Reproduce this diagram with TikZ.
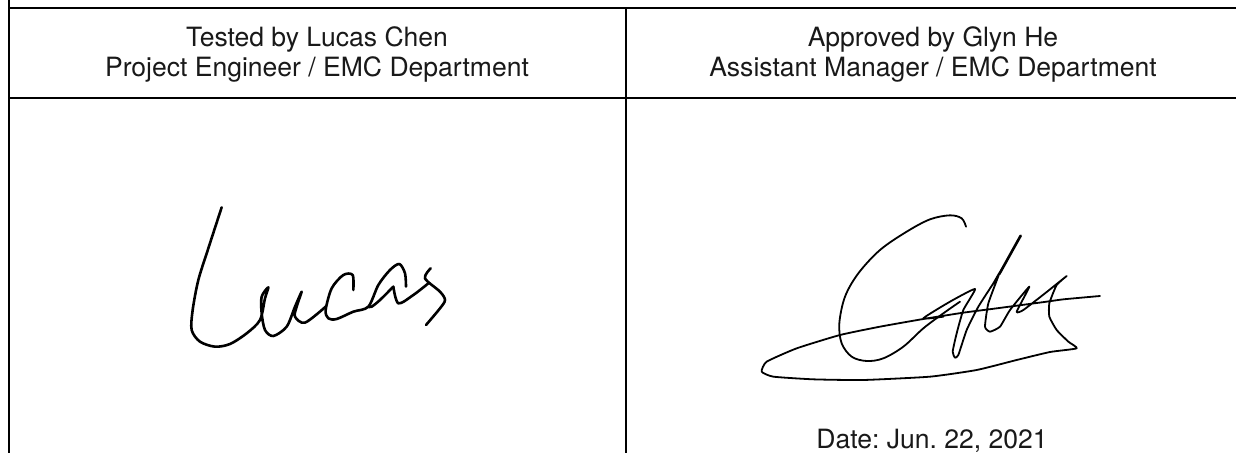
\documentclass[tikz,border=0pt]{standalone}
\usepackage{fontspec}
\setmainfont{TeX Gyre Heros}
\tikzset{
  rule/.style={line width=1.75pt,black},
  label/.style={anchor=base,inner sep=0pt,font=\fontsize{19.9}{24}\selectfont\frenchspacing,text=black!90},
  ink/.style={line width=1.35pt,line cap=round,line join=round,black},
  pen/.style={line width=1.95pt,line cap=round,line join=round,black},
}
\begin{document}
\begin{tikzpicture}[x=0.75pt,y=-0.75pt]
\useasboundingbox (0,0) rectangle (1236,453);
\fill[white] (0,0) rectangle (1236,453);
\coordinate (lt) at (9,0);
\coordinate (lb) at (9,453);
\coordinate (a1) at (9,8);
\coordinate (a2) at (1236,8);
\coordinate (b1) at (9,98);
\coordinate (b2) at (1236,98);
\coordinate (mt) at (626,8);
\coordinate (mb) at (626,453);
\draw[rule] (lt) -- (lb);
\draw[rule] (mt) -- (mb);
\draw[rule] (a1) -- (a2);
\draw[rule] (b1) -- (b2);
\node[label] (t1) at (317,47) {Tested by Lucas Chen};
\node[label] (t2) at (317,77) {Project Engineer / EMC Department};
\node[label] (t3) at (933,47) {Approved by Glyn He};
\node[label] (t4) at (933,77) {Assistant Manager / EMC Department};
\node[label] (t5) at (932,448.5) {Date: Jun. 22, 2021};
\begin{scope}[shift={(180,170)},x=0.25pt,y=-0.25pt]
\draw[pen] plot[smooth,tension=0.5] coordinates {(125,112)(85,235)(55,330)(38,420)(35,480)(60,515)(105,530)(150,522)(200,490)(240,450)(255,385)(265,352)(245,380)(245,430)(255,480)(280,498)(320,470)(345,410)(365,365)(350,410)(345,440)(375,458)(437,410)};
\draw[pen] plot[smooth,tension=0.5] coordinates {(520,360)(518,315)(490,315)(455,355)(437,420)(445,445)(470,447)(520,425)(565,410)(595,345)(630,300)(658,282)(675,310)(678,350)};
\draw[pen] plot[smooth,tension=0.5] coordinates {(640,350)(600,390)(575,410)(565,410)};
\draw[pen] plot[smooth,tension=0.5] coordinates {(640,350)(655,400)(700,375)(745,340)};
\draw[pen] plot[smooth,tension=0.5] coordinates {(752,295)(735,325)(780,365)(795,390)(780,415)(738,465)};
\end{scope}
\begin{scope}[shift={(730,170)},x=0.25pt,y=-0.25pt]
\draw[ink] plot[smooth,tension=0.55] coordinates {(708,170)(695,145)(660,136)(600,148)(530,185)(450,240)(385,310)(345,380)(328,460)(335,520)(365,560)(410,573)(460,565)(520,530)(580,475)(640,430)(690,395)};
\draw[ink] plot[smooth,tension=0.3] coordinates {(640,440)(580,445)(660,395)(735,357)(700,420)(680,490)(668,545)(675,563)(685,555)(710,480)(745,410)(790,340)(808,310)(775,400)(765,470)(780,485)(810,470)(840,420)(898,350)(860,425)(880,420)(945,370)(1010,318)(980,345)(958,400)(958,440)(980,480)(1015,515)(1040,535)(960,546)(860,570)(740,600)(600,620)(400,630)(250,628)(130,620)(95,605)(110,575)(200,535)(330,495)(450,470)(580,447)(700,428)(800,415)(950,395)(1000,388)(1110,378)};
\draw[pen] (808,312) -- (872,197);
\end{scope}
\end{tikzpicture}
\end{document}
